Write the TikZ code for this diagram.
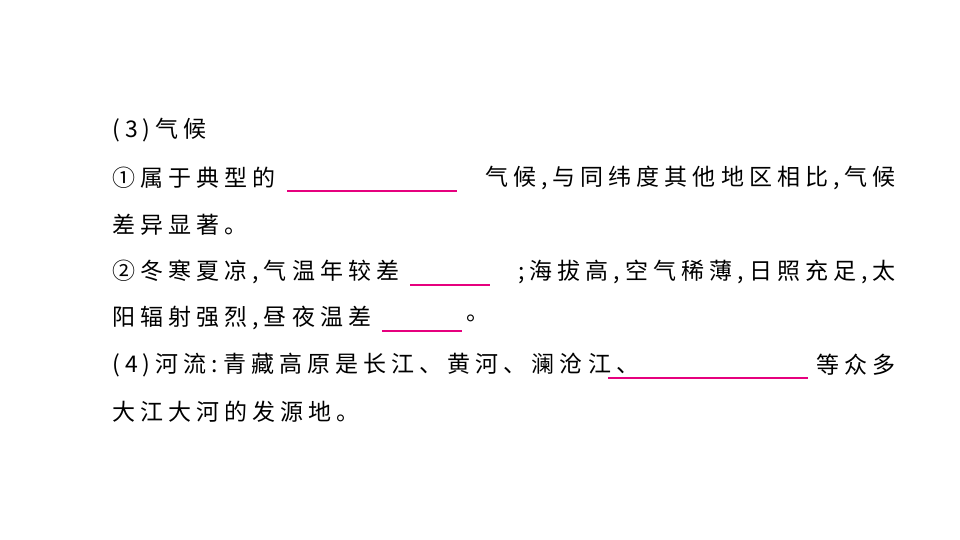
\documentclass[tikz,border=0pt]{standalone}
\usepackage{fontspec}
\newfontfamily\cjk[LetterSpace=22]{Noto Sans CJK SC}
\begin{document}
\begin{tikzpicture}[x=1pt,y=-1pt,
  t/.style={inner sep=0pt,font=\cjk\fontsize{23}{23}\selectfont,text=black},
  blank/.style={draw={rgb,255:red,230;green,0;blue,126},line width=1.2pt}]
\useasboundingbox (0,0) rectangle (960,540);
\node[t,anchor=west] (a1) at (112,130) {(3)气候};
\node[t,anchor=west] (b1) at (112,178) {①属于典型的};
\coordinate (b2s) at (287,191); \coordinate (b2e) at (457,191);
\draw[blank] (b2s) -- (b2e);
\node[t,anchor=east] (b3) at (896,178) {气候,与同纬度其他地区相比,气候};
\node[t,anchor=west] (c1) at (112,225) {差异显著。};
\node[t,anchor=west] (d1) at (112,272) {②冬寒夏凉,气温年较差};
\coordinate (d2s) at (410,285); \coordinate (d2e) at (490,285);
\draw[blank] (d2s) -- (d2e);
\node[t,anchor=east] (d3) at (896,272) {;海拔高,空气稀薄,日照充足,太};
\node[t,anchor=west] (e1) at (112,318) {阳辐射强烈,昼夜温差};
\coordinate (e2s) at (382,331); \coordinate (e2e) at (462,331);
\draw[blank] (e2s) -- (e2e);
\node[t,anchor=west] (e3) at (466,318) {。};
\node[t,anchor=west] (f1) at (112,365) {(4)河流:青藏高原是长江、黄河、澜沧江、};
\coordinate (f2s) at (608,378); \coordinate (f2e) at (808,378);
\draw[blank] (f2s) -- (f2e);
\node[t,anchor=east] (f3) at (896,365) {等众多};
\node[t,anchor=west] (g1) at (112,412) {大江大河的发源地。};
\end{tikzpicture}
\end{document}
